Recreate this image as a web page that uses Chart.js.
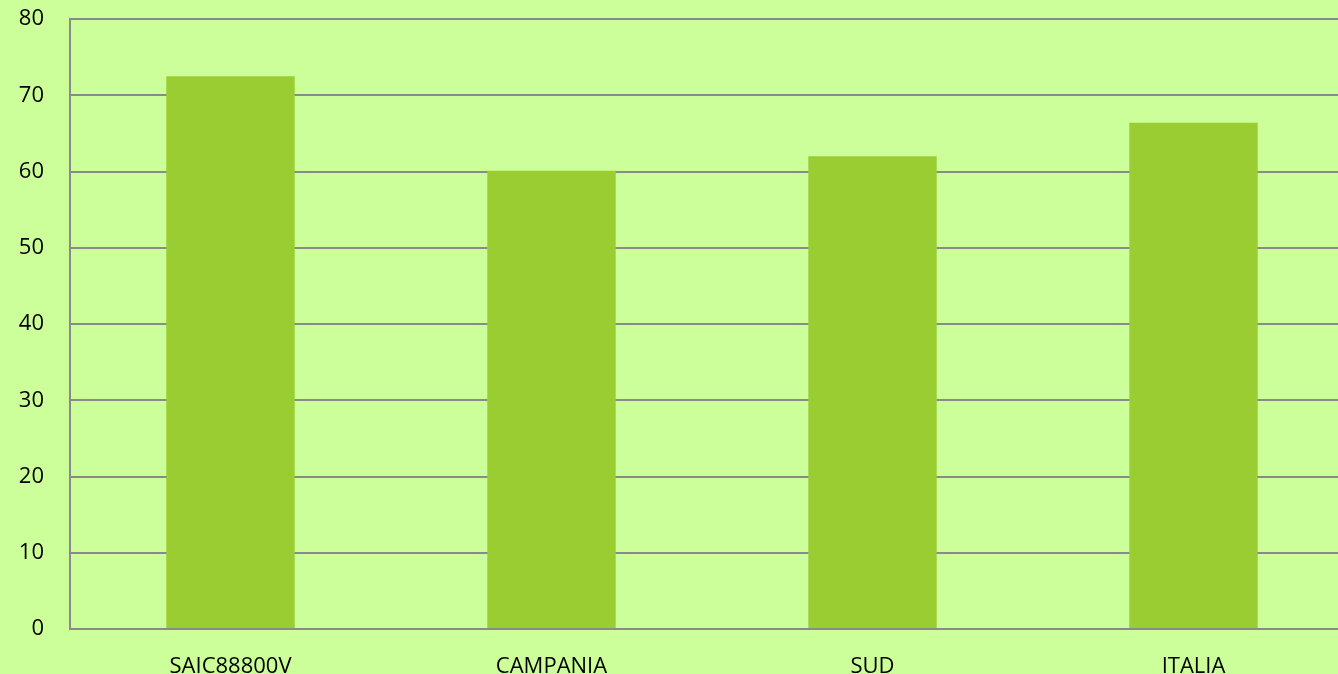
<!DOCTYPE html>
<html>
<head>
<meta charset="utf-8">
<script src="https://cdn.jsdelivr.net/npm/chart.js@4/dist/chart.umd.min.js"></script>
<style>
    html, body { margin: 0; padding: 0; background: #CCFF99; overflow: hidden; }
    #wrap { position: relative; width: 1354px; height: 674px; }
</style>
</head>
<body>
<div id="wrap"><canvas id="barChart"></canvas></div>
<script>
// chart data
const categories = ['SAIC88800V', 'CAMPANIA', 'SUD', 'ITALIA'];
const values = [72.5, 60.1, 62.0, 66.4];
const yTicks = [0, 10, 20, 30, 40, 50, 60, 70, 80];

const gridColor = '#8A8A8A';
const fontFamily = '"Open Sans", sans-serif';

const bgPlugin = {
    id: 'bg',
    beforeDraw(chart) {
        const c = chart.ctx;
        c.save();
        c.fillStyle = '#CCFF99';
        c.fillRect(0, 0, chart.width, chart.height);
        c.restore();
    }
};

const ctx = document.getElementById('barChart').getContext('2d');

// eslint-disable-next-line no-undef
new Chart(ctx, {
    type: 'bar',
    data: {
        labels: categories,
        datasets: [{
            data: values,
            backgroundColor: '#9ACD32',
            borderWidth: 0,
            categoryPercentage: 0.4,
            barPercentage: 1.0
        }]
    },
    options: {
        responsive: true,
        maintainAspectRatio: false,
        animation: false,
        layout: { padding: { top: 19, right: 0, left: 0, bottom: 0 } },
        scales: {
            x: {
                grid: { display: false, drawTicks: false },
                border: { display: true, color: gridColor, width: 2 },
                ticks: {
                    color: '#000',
                    font: { family: fontFamily, size: 22 },
                    padding: 25,
                    maxRotation: 0
                },
                afterFit(scale) {
                    scale.height = 45;
                    scale.paddingLeft = 0;
                    scale.paddingRight = 0;
                }
            },
            y: {
                min: 0,
                max: 80,
                afterBuildTicks(scale) {
                    scale.ticks = yTicks.map(v => ({ value: v }));
                },
                grid: { color: gridColor, lineWidth: 2, drawTicks: false },
                border: { display: true, color: gridColor, width: 2 },
                ticks: {
                    color: '#000',
                    font: { family: fontFamily, size: 22 },
                    padding: 26
                },
                afterFit(scale) {
                    scale.width = 70;
                    scale.paddingTop = 0;
                    scale.paddingBottom = 0;
                }
            }
        },
        plugins: {
            legend: { display: false },
            tooltip: { enabled: false }
        }
    },
    plugins: [bgPlugin]
});
</script>
</body>
</html>
